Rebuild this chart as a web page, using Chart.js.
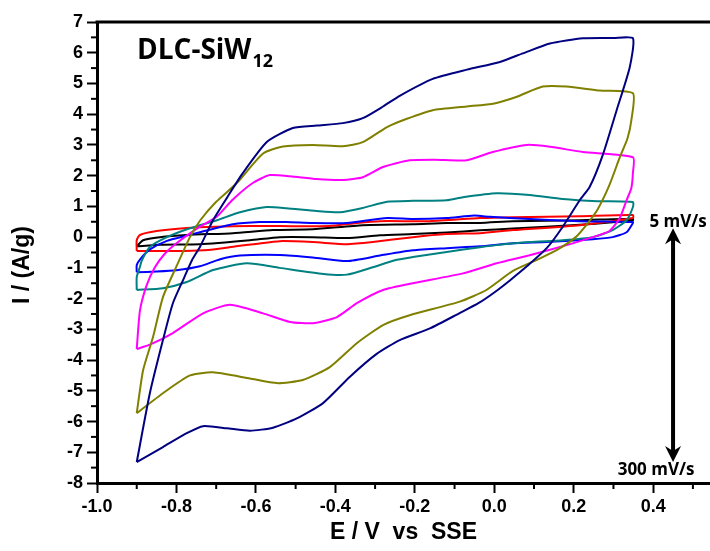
<!DOCTYPE html>
<html>
<head>
<meta charset="utf-8">
<script src="https://cdn.jsdelivr.net/npm/chart.js@4"></script>
<style>
  html, body { margin: 0; padding: 0; background: #fff; }
</style>
</head>
<body>
<canvas id="cvChart" width="710" height="551"></canvas>
<script>
// scan rates, largest loop first
const rateLabels = ["300 mV/s", "200 mV/s", "100 mV/s", "50 mV/s", "20 mV/s", "10 mV/s", "5 mV/s"];
const rateColors = ["#000080", "#808000", "#FF00FF", "#008080", "#0000FF", "#FF0000", "#000000"];

// each loop: forward sweep then reverse sweep (E in V, I in A/g)
const navyE = [-0.9, -0.867, -0.834, -0.809, -0.78, -0.761, -0.741, -0.708, -0.672, -0.633, -0.572, -0.507, -0.447, -0.381, -0.331, -0.28, -0.238, -0.155, -0.069, 0.014, 0.072, 0.14, 0.223, 0.3, 0.349,
  0.341, 0.308, 0.273, 0.24, 0.215, 0.172, 0.132, 0.082, 0.04, 0.0, -0.04, -0.087, -0.162, -0.238, -0.296, -0.364, -0.431, -0.497, -0.557, -0.615, -0.673, -0.733, -0.774, -0.834, -0.9];
const navyI = [-7.32, -5.08, -3.35, -2.15, -1.3, -0.75, -0.32, 0.55, 1.3, 2.08, 3.1, 3.55, 3.63, 3.71, 3.87, 4.25, 4.6, 5.15, 5.45, 5.7, 5.98, 6.3, 6.47, 6.48, 6.47,
  5.53, 4.13, 2.67, 1.63, 1.2, 0.33, -0.36, -0.95, -1.4, -1.8, -2.15, -2.47, -2.97, -3.35, -3.8, -4.55, -5.4, -5.9, -6.2, -6.3, -6.22, -6.15, -6.38, -6.83, -7.32];

const oliveE = [-0.9, -0.884, -0.859, -0.834, -0.8, -0.766, -0.74, -0.7, -0.648, -0.582, -0.532, -0.457, -0.381, -0.331, -0.27, -0.22, -0.155, -0.07, 0.0, 0.057, 0.122, 0.182, 0.265, 0.349,
  0.345, 0.335, 0.316, 0.29, 0.26, 0.232, 0.205, 0.16, 0.114, 0.047, -0.02, -0.087, -0.213, -0.28, -0.346, -0.414, -0.482, -0.547, -0.615, -0.708, -0.766, -0.834, -0.9];
const oliveI = [-5.73, -4.33, -3.25, -1.95, -0.95, 0.0, 0.55, 1.15, 1.76, 2.72, 2.95, 3.0, 2.96, 3.09, 3.58, 3.85, 4.13, 4.25, 4.35, 4.57, 4.9, 4.9, 4.77, 4.68,
  3.8, 3.2, 2.6, 1.7, 0.9, 0.4, 0.0, -0.4, -0.7, -1.1, -1.72, -2.1, -2.54, -2.86, -3.45, -4.23, -4.65, -4.75, -4.6, -4.4, -4.5, -5.08, -5.73];

const magentaE = [-0.9, -0.892, -0.876, -0.855, -0.83, -0.8, -0.741, -0.699, -0.66, -0.608, -0.565, -0.514, -0.447, -0.381, -0.331, -0.28, -0.213, -0.15, -0.069, -0.004, 0.082, 0.14, 0.223, 0.349,
  0.349, 0.345, 0.333, 0.315, 0.29, 0.248, 0.182, 0.089, 0.006, -0.079, -0.205, -0.28, -0.346, -0.396, -0.457, -0.514, -0.582, -0.665, -0.733, -0.809, -0.867, -0.9];
const magentaI = [-3.64, -2.4, -1.6, -1.0, -0.55, -0.2, 0.34, 0.66, 1.2, 1.76, 2.02, 1.98, 1.89, 1.86, 1.95, 2.28, 2.5, 2.52, 2.5, 2.77, 3.0, 2.94, 2.77, 2.6,
  2.1, 1.6, 1.2, 0.6, 0.2, 0.0, -0.26, -0.59, -0.85, -1.18, -1.5, -1.72, -2.15, -2.6, -2.8, -2.76, -2.48, -2.2, -2.48, -3.12, -3.5, -3.64];

const tealE = [-0.9, -0.9, -0.892, -0.887, -0.867, -0.824, -0.766, -0.698, -0.64, -0.573, -0.523, -0.447, -0.389, -0.331, -0.27, -0.205, -0.12, -0.079, 0.006, 0.089, 0.172, 0.26, 0.349,
  0.349, 0.333, 0.298, 0.248, 0.172, 0.089, 0.006, -0.036, -0.12, -0.205, -0.25, -0.306, -0.371, -0.43, -0.54, -0.623, -0.708, -0.774, -0.834, -0.9];
const tealI = [-1.72, -1.3, -0.97, -0.75, -0.32, 0.0, 0.29, 0.55, 0.81, 0.98, 0.94, 0.85, 0.81, 0.95, 1.15, 1.18, 1.2, 1.3, 1.43, 1.37, 1.24, 1.17, 1.14,
  0.98, 0.55, 0.23, 0.0, -0.1, -0.16, -0.26, -0.33, -0.48, -0.65, -0.75, -0.98, -1.22, -1.2, -1.0, -0.85, -1.07, -1.46, -1.66, -1.72];

const blueE = [-0.9, -0.9, -0.89, -0.867, -0.824, -0.774, -0.741, -0.658, -0.59, -0.523, -0.457, -0.371, -0.27, -0.205, -0.12, -0.05, -0.011, 0.089, 0.215, 0.349,
  0.349, 0.333, 0.298, 0.248, 0.132, 0.047, -0.036, -0.12, -0.205, -0.288, -0.371, -0.457, -0.54, -0.64, -0.69, -0.741, -0.8, -0.85, -0.9];
const blueI = [-1.14, -0.91, -0.7, -0.4, -0.12, 0.05, 0.16, 0.42, 0.49, 0.49, 0.46, 0.46, 0.62, 0.59, 0.62, 0.7, 0.66, 0.59, 0.52, 0.49,
  0.46, 0.16, 0.0, -0.07, -0.16, -0.2, -0.3, -0.36, -0.43, -0.6, -0.78, -0.66, -0.58, -0.6, -0.72, -0.95, -1.08, -1.12, -1.14];

const redE = [-0.9, -0.9, -0.892, -0.85, -0.774, -0.7, -0.615, -0.54, -0.414, -0.346, -0.288, -0.162, -0.036, 0.047, 0.215, 0.349,
  0.349, 0.215, 0.047, -0.036, -0.12, -0.205, -0.306, -0.371, -0.457, -0.54, -0.6, -0.65, -0.72, -0.78, -0.9];
const redI = [-0.45, -0.1, 0.07, 0.2, 0.3, 0.34, 0.36, 0.36, 0.36, 0.46, 0.52, 0.52, 0.62, 0.65, 0.68, 0.72,
  0.62, 0.39, 0.23, 0.13, 0.1, 0.0, -0.16, -0.23, -0.16, -0.13, -0.22, -0.3, -0.42, -0.45, -0.45];

const blackE = [-0.9, -0.884, -0.842, -0.774, -0.658, -0.557, -0.457, -0.331, -0.205, -0.12, -0.036, 0.047, 0.215, 0.349,
  0.349, 0.215, 0.047, -0.036, -0.12, -0.205, -0.288, -0.371, -0.457, -0.54, -0.615, -0.741, -0.84, -0.9];
const blackI = [-0.3, -0.1, 0.0, 0.07, 0.13, 0.23, 0.26, 0.39, 0.42, 0.46, 0.46, 0.52, 0.55, 0.6,
  0.55, 0.4, 0.28, 0.22, 0.15, 0.1, 0.06, -0.03, 0.0, 0.0, -0.1, -0.23, -0.25, -0.3];

const xTicks = [-1.0, -0.8, -0.6, -0.4, -0.2, 0.0, 0.2, 0.4];
const xMinor = [-0.9, -0.7, -0.5, -0.3, -0.1, 0.1, 0.3, 0.5];
const yTicks = [-8, -7, -6, -5, -4, -3, -2, -1, 0, 1, 2, 3, 4, 5, 6, 7];

const loops = [[navyE, navyI], [oliveE, oliveI], [magentaE, magentaI], [tealE, tealI], [blueE, blueI], [redE, redI], [blackE, blackI]];

const tickFont = { family: "Liberation Sans", weight: "bold", size: 18 };

// minor ticks, top frame, titles, labels and the rate arrow
const decorPlugin = {
  id: "decor",
  afterDraw(chart) {
    const ctx = chart.ctx;
    const xs = chart.scales.x, ys = chart.scales.y;
    const area = chart.chartArea;
    ctx.save();
    ctx.strokeStyle = "#000";
    ctx.fillStyle = "#000";

    ctx.lineWidth = 2;
    xMinor.forEach(v => {
      const px = xs.getPixelForValue(v);
      ctx.beginPath(); ctx.moveTo(px, area.bottom); ctx.lineTo(px, area.bottom + 6); ctx.stroke();
    });
    yTicks.slice(0, -1).forEach(v => {
      const py = ys.getPixelForValue(v + 0.5);
      ctx.beginPath(); ctx.moveTo(area.left, py); ctx.lineTo(area.left - 6, py); ctx.stroke();
    });

    ctx.lineWidth = 3;
    ctx.beginPath(); ctx.moveTo(area.left - 1.5, area.top); ctx.lineTo(area.right, area.top); ctx.stroke();

    // axis titles
    ctx.font = "bold 23px 'Liberation Sans'";
    ctx.textAlign = "center";
    ctx.textBaseline = "middle";
    ctx.fillText("E / V  vs  SSE", (area.left + area.right) / 2, 533);
    ctx.save();
    ctx.translate(23, 265);
    ctx.rotate(-Math.PI / 2);
    ctx.fillText("I / (A/g)", 0, 0);
    ctx.restore();

    // sample name
    ctx.textAlign = "left";
    ctx.textBaseline = "alphabetic";
    ctx.font = "bold 28px 'Open Sans'";
    ctx.fillText("DLC-SiW", 137, 59);
    const w = ctx.measureText("DLC-SiW").width;
    ctx.font = "bold 18px 'Open Sans'";
    ctx.fillText("12", 137 + w + 1, 67);

    // scan-rate arrow
    const ax = xs.getPixelForValue(0.45);
    const yTop = ys.getPixelForValue(0.29);
    const yBot = ys.getPixelForValue(-7.32);
    ctx.lineWidth = 4;
    ctx.beginPath(); ctx.moveTo(ax, yTop + 10); ctx.lineTo(ax, yBot - 10); ctx.stroke();
    ctx.beginPath(); ctx.moveTo(ax, yTop); ctx.lineTo(ax - 8, yTop + 16); ctx.lineTo(ax, yTop + 11); ctx.lineTo(ax + 8, yTop + 16); ctx.closePath(); ctx.fill();
    ctx.beginPath(); ctx.moveTo(ax, yBot); ctx.lineTo(ax - 8, yBot - 16); ctx.lineTo(ax, yBot - 11); ctx.lineTo(ax + 8, yBot - 16); ctx.closePath(); ctx.fill();

    ctx.font = "bold 17px 'Open Sans'";
    ctx.textAlign = "center";
    ctx.fillText(rateLabels[6], ax + 5, 227);
    ctx.fillText(rateLabels[0], ax - 17, 475);
    ctx.restore();
  }
};

new Chart(document.getElementById("cvChart"), {
  type: "scatter",
  data: {
    datasets: loops.map((lp, i) => ({
      label: rateLabels[i],
      data: lp[0].map((e, k) => ({ x: e, y: lp[1][k] })),
      showLine: true,
      borderColor: rateColors[i],
      borderWidth: 2,
      pointRadius: 0,
      tension: 0.2,
      fill: false
    }))
  },
  options: {
    responsive: false,
    devicePixelRatio: 1,
    animation: false,
    layout: { padding: { top: 22, right: 0, left: 0, bottom: 0 } },
    plugins: { legend: { display: false }, tooltip: { enabled: false } },
    scales: {
      x: {
        type: "linear",
        min: -1.0,
        max: 0.543,
        afterFit: s => { s.height = 68; },
        afterBuildTicks: s => { s.ticks = xTicks.map(v => ({ value: v })); },
        ticks: { font: tickFont, color: "#000", padding: 3, maxRotation: 0, autoSkip: false,
          callback: v => Number(v).toFixed(1) },
        grid: { drawOnChartArea: false, drawTicks: true, tickLength: 10, tickWidth: 2, tickColor: "#000" },
        border: { display: true, color: "#000", width: 3 }
      },
      y: {
        type: "linear",
        min: -8,
        max: 7,
        afterFit: s => { s.width = 97; },
        afterBuildTicks: s => { s.ticks = yTicks.map(v => ({ value: v })); },
        ticks: { font: tickFont, color: "#000", padding: 4, autoSkip: false,
          callback: v => String(v) },
        grid: { drawOnChartArea: false, drawTicks: true, tickLength: 10, tickWidth: 2, tickColor: "#000" },
        border: { display: true, color: "#000", width: 3 }
      }
    }
  },
  plugins: [decorPlugin]
});
</script>
</body>
</html>
